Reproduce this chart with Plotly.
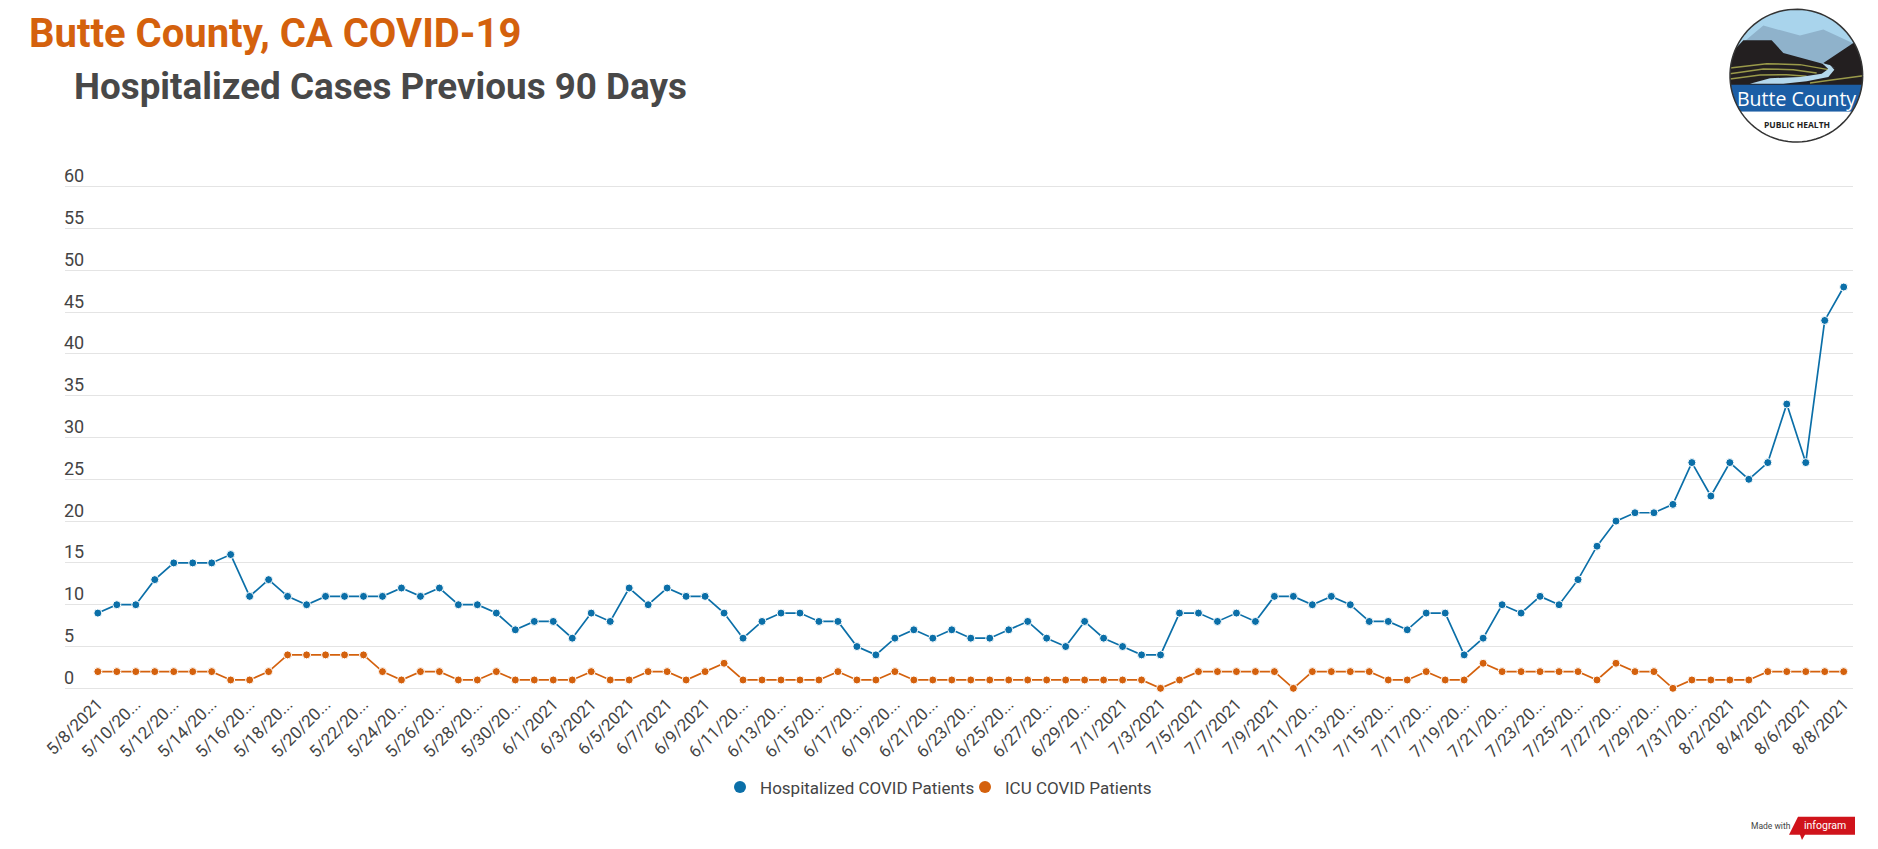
import numpy as np
import pandas as pd
import plotly.graph_objects as go

W, H = 1878, 849
# plot area in page pixels; y range is padded a little so the 0 and 60 gridlines are kept
LEFT, RIGHT, TOP, BOTTOM = 65, 1853, 185.33, 690.17

# daily values, 5/8/2021 to 8/8/2021
days = pd.date_range("2021-05-08", "2021-08-08")
dates = [f"{d.month}/{d.day}/{d.year}" for d in days]
hospitalized = [
    9, 10, 10, 13, 15, 15, 15, 16, 11, 13, 11, 10, 11, 11, 11, 11, 12, 11, 12, 10, 10, 9, 7, 8,
    8, 6, 9, 8, 12, 10, 12, 11, 11, 9, 6, 8, 9, 9, 8, 8, 5, 4, 6, 7, 6, 7, 6, 6, 7, 8, 6, 5, 8, 6,
    5, 4, 4, 9, 9, 8, 9, 8, 11, 11, 10, 11, 10, 8, 8, 7, 9, 9, 4, 6, 10, 9, 11, 10, 13, 17, 20, 21, 21, 22, 27,
    23, 27, 25, 27, 34, 27, 44, 48,
]
icu = [
    2, 2, 2, 2, 2, 2, 2, 1, 1, 2, 4, 4, 4, 4, 4, 2, 1, 2, 2, 1, 1, 2, 1, 1,
    1, 1, 2, 1, 1, 2, 2, 1, 2, 3, 1, 1, 1, 1, 1, 2, 1, 1, 2, 1, 1, 1, 1, 1, 1, 1, 1, 1, 1, 1,
    1, 1, 0, 1, 2, 2, 2, 2, 2, 0, 2, 2, 2, 2, 1, 1, 2, 1, 1, 3, 2, 2, 2, 2, 2, 1, 3, 2, 2, 0, 1,
    1, 1, 1, 2, 2, 2, 2, 2,
]
y_ticks = list(range(0, 65, 5))

BLUE = "#0b6fa8"
ORANGE = "#d4610d"
TEXT = "#444444"
FONT = "Roboto"

# infogram cuts the longer labels
tick_dates = dates[::2]
tick_labels = [d if len(d) <= 8 else d[:7] + "..." for d in tick_dates]


# paper coords run over the plot area, so convert from page pixels
def paper(x, y):
    return (x - LEFT) / (RIGHT - LEFT), 1 - (y - TOP) / (BOTTOM - TOP)


def logo_xy(x, y):
    # logo was measured on a 3x crop starting at x=1500
    return 1500 + x / 3, y / 3


def path(points, close=True):
    out = []
    for i, (x, y) in enumerate(points):
        px, py = paper(*logo_xy(x, y))
        out.append(("M" if i == 0 else "L") + f"{px:.5f},{py:.5f}")
    return " ".join(out) + (" Z" if close else "")


def logo_shape(points, fill, close=True, line=None, width=0):
    return dict(type="path", xref="paper", yref="paper", path=path(points, close),
                fillcolor=fill if close else "rgba(0,0,0,0)",
                line=dict(color=line or "rgba(0,0,0,0)", width=width), layer="above")


fig = go.Figure()
fig.add_trace(go.Scatter(x=dates, y=hospitalized, mode="lines+markers", showlegend=False,
                         name="Hospitalized COVID Patients", cliponaxis=False,
                         line=dict(color=BLUE, width=1.7),
                         marker=dict(color=BLUE, size=8, line=dict(color="white", width=1))))
fig.add_trace(go.Scatter(x=dates, y=icu, mode="lines+markers", showlegend=False,
                         name="ICU COVID Patients", cliponaxis=False,
                         line=dict(color=ORANGE, width=1.7),
                         marker=dict(color=ORANGE, size=8, line=dict(color="white", width=1))))
# bigger dots for the legend only
for name, color in [("Hospitalized COVID Patients", BLUE), ("ICU COVID Patients", ORANGE)]:
    fig.add_trace(go.Scatter(x=[None], y=[None], mode="markers", name=name,
                             marker=dict(color=color, size=12)))

annotations = []
for v in y_ticks:
    annotations.append(dict(xref="paper", yref="y", x=0, y=v, xshift=-3, yshift=11, text=str(v), showarrow=False,
                            xanchor="left", yanchor="middle", font=dict(family=FONT, size=18, color=TEXT)))


def label(x, y, text, size, color, weight=400, anchor="left", family=FONT):
    px, py = paper(x, y)
    annotations.append(dict(xref="paper", yref="paper", x=px, y=py, text=text, showarrow=False,
                            xanchor=anchor, yanchor="middle",
                            font=dict(family=family, size=size, color=color, weight=weight)))


label(27, 34, "Butte County, CA COVID-19", 40, ORANGE, 700)
label(72, 87, "Hospitalized Cases Previous 90 Days", 36.8, "#484848", 700)

# logo, clipped by a white ring drawn on top
t = np.linspace(0, 2 * np.pi, 90)
cx, cy, r = 889, 228, 199
circle = list(zip(cx + r * np.cos(t), cy + r * np.sin(t)))
ring = path([(660, 0), (1120, 0), (1120, 450), (660, 450)]) + " " + path(circle[::-1])

shapes = [
    logo_shape([(680, 20), (1100, 20), (1100, 260), (680, 260)], "#a9d4ec"),
    logo_shape([(680, 170), (790, 78), (900, 108), (970, 90), (1100, 150), (1100, 260), (680, 260)], "#8fb2cb"),
    logo_shape([(680, 260), (680, 175), (730, 122), (815, 122), (850, 160), (960, 190), (1005, 205),
                (970, 190), (1060, 130), (1100, 150), (1100, 260)], "#231f20"),
    logo_shape([(690, 205), (800, 192), (900, 195), (985, 210)], "rgba(0,0,0,0)", close=False, line="#9a9a4a", width=1.5),
    logo_shape([(690, 222), (790, 208), (880, 210), (950, 220)], "rgba(0,0,0,0)", close=False, line="#9a9a4a", width=1.5),
    logo_shape([(690, 238), (780, 226), (860, 225), (920, 230)], "rgba(0,0,0,0)", close=False, line="#9a9a4a", width=1.5),
    logo_shape([(930, 250), (1000, 240), (1090, 228)], "rgba(0,0,0,0)", close=False, line="#9a9a4a", width=1.5),
    logo_shape([(750, 252), (810, 236), (900, 232), (965, 222), (985, 208), (968, 192), (990, 196),
                (1003, 210), (985, 232), (920, 245), (850, 252)], "#b5d8ec"),
    logo_shape([(680, 255), (1100, 255), (1100, 336), (680, 336)], "#1c5ea5"),
    logo_shape([(680, 336), (1100, 336), (1100, 440), (680, 440)], "#ffffff"),
    dict(type="path", xref="paper", yref="paper", path=ring, fillcolor="white",
         line=dict(color="rgba(0,0,0,0)", width=0), layer="above"),
    logo_shape(circle, "rgba(0,0,0,0)", close=False, line="#333333", width=1.5),
]
label(*logo_xy(889, 296), "Butte County", 19.5, "#ffffff", anchor="center", family="Open Sans")
label(*logo_xy(891, 374), "PUBLIC HEALTH", 8.5, "#222222", 700, anchor="center", family="Open Sans")


# made with infogram badge, measured in pixels
def badge(points):
    return " ".join(("M" if i == 0 else "L") + "{:.5f},{:.5f}".format(*paper(x, y))
                    for i, (x, y) in enumerate(points)) + " Z"


shapes.append(dict(type="path", xref="paper", yref="paper",
                   path=badge([(1798, 817), (1855, 817), (1855, 835), (1805, 835), (1802, 840),
                               (1800, 835), (1789, 835)]),
                   fillcolor="#d0131b", line=dict(color="rgba(0,0,0,0)", width=0)))
label(1749, 826, "Made with", 8.5, "#444444")
label(1825, 826, "infogram", 10.5, "#ffffff", anchor="center")

lx, ly = paper(720, 787.5)
fig.update_layout(
    width=W, height=H,
    margin=dict(l=LEFT, r=W - RIGHT, t=TOP, b=H - BOTTOM, autoexpand=False),
    paper_bgcolor="white", plot_bgcolor="white",
    font=dict(family=FONT, color=TEXT),
    annotations=annotations, shapes=shapes,
    showlegend=True,
    legend=dict(orientation="h", x=lx, xanchor="left", y=ly, yanchor="middle",
                font=dict(family=FONT, size=17, color=TEXT), itemwidth=30, traceorder="normal",
                entrywidth=200, entrywidthmode="pixels"),
    xaxis=dict(type="category", categoryorder="array", categoryarray=dates,
               range=[-1.73, 92.49], tickmode="array", tickvals=tick_dates, ticktext=tick_labels,
               tickangle=-45, tickfont=dict(family=FONT, size=17, color=TEXT),
               showgrid=False, zeroline=False, showline=False, ticks=""),
    yaxis=dict(range=[-0.2, 60.2], tickvals=y_ticks, showticklabels=False, gridcolor="#e4e4e4", gridwidth=1.3,
               zeroline=False, showline=False, ticks=""),
)

fig.write_html("out.html", config={"displayModeBar": False}, post_script="document.body.style.margin='0';")
